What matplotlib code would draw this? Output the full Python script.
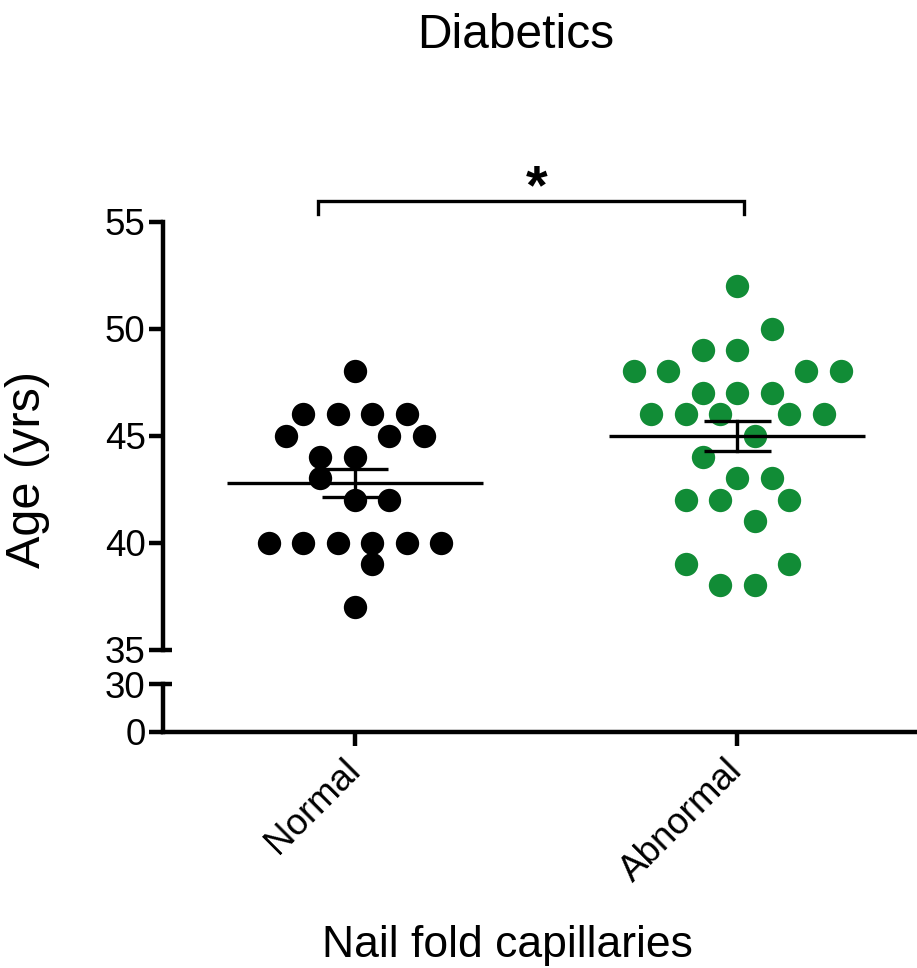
import matplotlib
matplotlib.use("Agg")
import matplotlib.pyplot as plt
import numpy as np

plt.rcParams['font.family'] = ['Liberation Sans', 'DejaVu Sans']

# data
groups = ["Normal", "Abnormal"]
normal_ages = [48, 46, 46, 46, 46, 45, 45, 45, 44, 44, 43, 42, 42,
               40, 40, 40, 40, 40, 40, 39, 37]
normal_slots = [0, -3, -1, 1, 3, -4, 2, 4, -2, 0, -2, 0, 2,
                -5, -3, -1, 1, 3, 5, 1, 0]
abnormal_ages = [52, 50, 49, 49, 48, 48, 48, 48, 47, 47, 47,
                 46, 46, 46, 46, 46, 45, 44, 43, 43, 42, 42, 42,
                 41, 39, 39, 38, 38]
abnormal_slots = [0, 2, -2, 0, -6, -4, 4, 6, -2, 0, 2,
                  -5, -3, -1, 3, 5, 1, -2, 0, 2, -3, -1, 3,
                  1, -3, 3, -1, 1]
upper_ticks = [35, 40, 45, 50, 55]
lower_ticks = [0, 30]
colors = ["black", "#118c36"]

W, H = 917, 968
fig = plt.figure(figsize=(W / 100, H / 100), dpi=100)

left = 163 / W
width = (W - 163) / W
ax = fig.add_axes([left, 1 - 649.5 / H, width, (649.5 - 221.5) / H])
axb = fig.add_axes([left, 1 - 731.5 / H, width, (731.5 - 684) / H])

xlim = (-0.502, 1.470)
slot_w = 0.0451
lw_axis = 3.2

for a in (ax, axb):
    a.set_xlim(*xlim)
    for s in ("top", "right"):
        a.spines[s].set_visible(False)
    a.spines["left"].set_linewidth(lw_axis)
    a.spines["bottom"].set_linewidth(lw_axis)
    a.tick_params(axis="both", width=lw_axis, length=10, labelsize=26.5,
                  pad=2.5)
    a.patch.set_visible(False)

ax.spines["bottom"].set_visible(False)
ax.set_ylim(35, 55)
ax.set_yticks(upper_ticks)
ax.set_xticks([])

axb.set_ylim(0, 30)
axb.set_yticks(lower_ticks)
axb.set_xticks([0, 1])
axb.set_xticklabels(groups, rotation=45, ha="right", va="center",
                    rotation_mode="anchor")
axb.tick_params(axis="x", pad=14)

# break stubs on the right of the axis
stub = 9 / (W - 163)
ax.plot([0, stub], [35, 35], transform=ax.get_yaxis_transform(),
        color="black", lw=lw_axis, clip_on=False, solid_capstyle="butt")
axb.plot([0, stub], [30, 30], transform=axb.get_yaxis_transform(),
         color="black", lw=lw_axis, clip_on=False, solid_capstyle="butt")

# dots, mean and SEM
for i, (ages, slots) in enumerate([(normal_ages, normal_slots),
                                   (abnormal_ages, abnormal_slots)]):
    ages = np.array(ages, dtype=float)
    xs = i + np.array(slots) * slot_w
    ax.plot(xs, ages, "o", ms=16.8, mew=0, color=colors[i], zorder=2)
    m = ages.mean()
    sem = ages.std(ddof=1) / np.sqrt(len(ages))
    ax.plot([i - 0.335, i + 0.335], [m, m], color="black", lw=2.4, zorder=3,
            solid_capstyle="butt")
    ax.plot([i, i], [m - sem, m + sem], color="black", lw=2.4, zorder=3)
    for y in (m - sem, m + sem):
        ax.plot([i - 0.087, i + 0.087], [y, y], color="black", lw=2.4,
                zorder=3, solid_capstyle="butt")

# significance bracket
bx0, bx1 = -0.097, 1.018
by, bl = 55.98, 55.37
ax.plot([bx0, bx0, bx1, bx1], [bl, by, by, bl], color="black", lw=2.4,
        clip_on=False, solid_joinstyle="miter")
fig.text(536.7 / W, 1 - 203 / H, "*", fontsize=40, fontweight="bold",
         ha="center", va="baseline")

fig.text(515.5 / W, 1 - 48 / H, "Diabetics", fontsize=34.5,
         ha="center", va="baseline")
fig.text(507 / W, 1 - 957 / H, "Nail fold capillaries", fontsize=32,
         ha="center", va="baseline")
fig.text(28 / W, 1 - 469 / H, "Age (yrs)", fontsize=35, rotation=90,
         ha="center", va="center")

fig.savefig("out.png", dpi=100)
